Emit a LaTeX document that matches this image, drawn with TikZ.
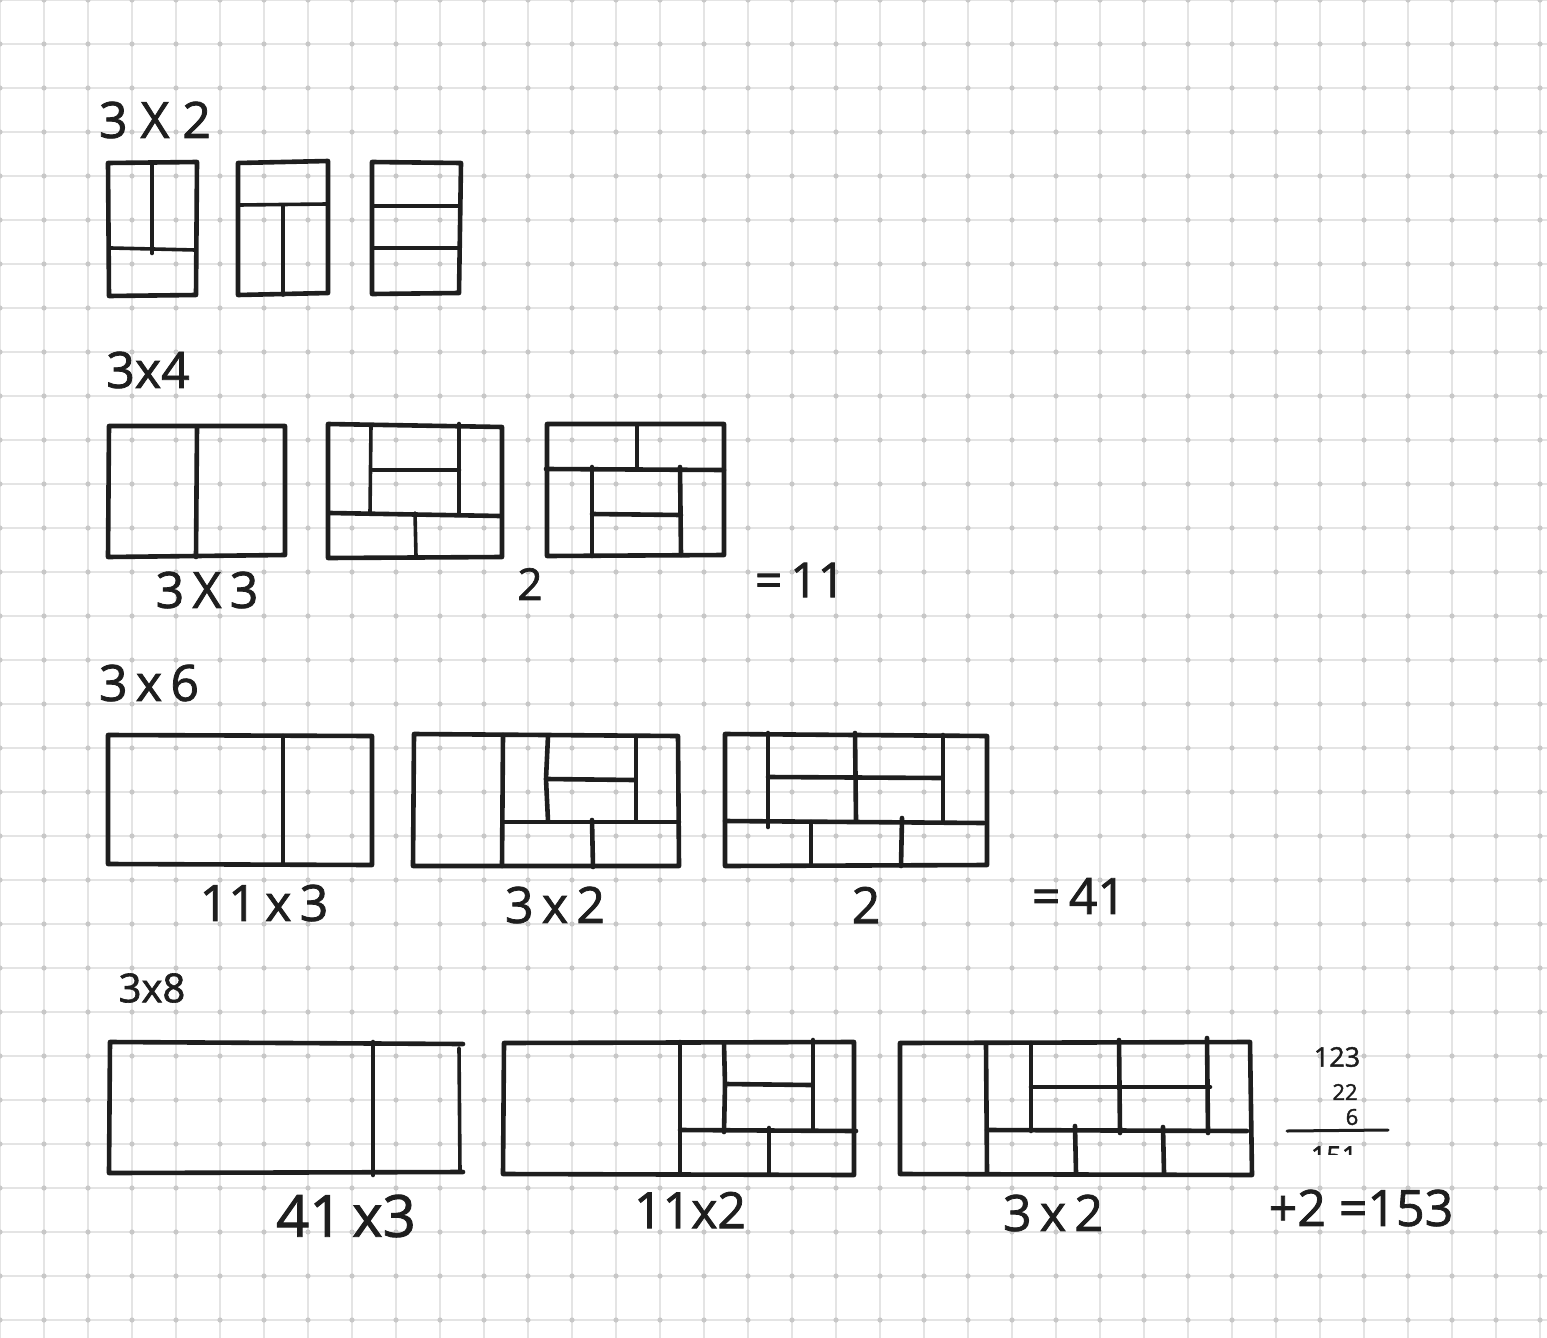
\documentclass[tikz,border=0pt]{standalone}
\usepackage{fontspec}
\setmainfont{Open Sans}[FakeBold=1.6]
\definecolor{ink}{HTML}{1E1E1E}
\definecolor{gridc}{HTML}{E4E4E4}
\definecolor{dotc}{HTML}{C8C8C8}
\begin{document}
\begin{tikzpicture}[x=1pt,y=-1pt,
  pen/.style={draw=ink,line width=4.6pt,line cap=round,line join=round},
  fine/.style={draw=ink,line width=3.6pt,line cap=round,line join=round},
  gridline/.style={draw=gridc,line width=1.8pt},
  hand/.style={text=ink,inner sep=0pt,anchor=center},
  big/.style={hand,font=\fontsize{50}{60}\selectfont},
  mid/.style={hand,font=\fontsize{40}{48}\selectfont},
  small/.style={hand,font=\fontsize{27}{32}\selectfont},
  tiny/.style={hand,font=\fontsize{22}{26}\selectfont}]
\useasboundingbox (0,0) rectangle (1547,1338);
\fill[white] (0,0) rectangle (1547,1338);
% grid
\foreach \i in {0,...,35} \draw[gridline] (\i*44,0) -- (\i*44,1338);
\foreach \j in {0,...,30} \draw[gridline] (0,\j*44) -- (1547,\j*44);
\foreach \i in {0,...,35} \foreach \j in {0,...,30} \fill[dotc] (\i*44,\j*44) circle (2.6pt);

% ---------- 3 x 2 ----------
\node[big] (t1) at (155,120) {3 X 2};
\draw[pen] (108,163) -- (197,162) -- (196,295) -- (109,296) -- cycle;
\draw[pen] (152,165) -- (152,253);
\draw[fine] (111,248) -- (195,250);
\draw[pen] (238,163) -- (328,161) -- (328,293) -- (238,295) -- cycle;
\draw[fine] (239,205) -- (327,204);
\draw[fine] (283,205) -- (283,295);
\draw[pen] (372,162) -- (461,163) -- (459,293) -- (372,294) -- cycle;
\draw[fine] (373,206) -- (458,206);
\draw[fine] (373,248) -- (458,248);

% ---------- 3 x 4 ----------
\node[big] (t2) at (148,370) {3x4};
\draw[pen] (109,426) -- (285,426) -- (285,555) -- (108,557) -- cycle;
\draw[pen] (197,427) -- (196,557);
\node[big] (t3) at (207,590) {3\,X\,3};
\draw[pen] (328,424) -- (502,427) -- (502,557) -- (328,558) -- cycle;
\draw[fine] (371,425) -- (370,513);
\draw[pen] (459,424) -- (459,514);
\draw[pen] (373,470) -- (459,470);
\draw[pen] (330,513) -- (500,516);
\draw[fine] (415,513) -- (416,556);
\draw[pen] (547,424) -- (724,424) -- (724,555) -- (547,556) -- cycle;
\draw[pen] (546,469) -- (724,470);
\draw[fine] (637,425) -- (637,469);
\draw[pen] (592,467) -- (592,556);
\draw[pen] (680,467) -- (681,555);
\draw[pen] (592,514) -- (681,515);
\node[hand,font=\fontsize{44}{52}\selectfont] (t4) at (530,584) {2};
\node[hand,font=\fontsize{48}{58}\selectfont] (t5) at (800,580) {=\,11};

% ---------- 3 x 6 ----------
\node[big] (t6) at (149,683) {3\,x\,6};
\draw[pen] (108,735) -- (372,736) -- (372,865) -- (108,864) -- cycle;
\draw[pen] (283,736) -- (283,864);
\node[big] (t7) at (264,903) {11\,x\,3};
\draw[pen] (414,734) -- (678,736) -- (679,866) -- (413,866) -- cycle;
\draw[pen] (503,735) -- (502,866);
\draw[pen] (548,736) -- (546,779) -- (548,821);
\draw[pen] (547,779) -- (634,780);
\draw[pen] (636,736) -- (636,821);
\draw[pen] (503,822) -- (679,822);
\draw[pen] (592,820) -- (593,867);
\node[big] (t8) at (555,905) {3\,x\,2};
\draw[pen] (725,734) -- (987,736) -- (987,865) -- (725,866) -- cycle;
\draw[pen] (768,733) -- (768,827);
\draw[pen] (855,733) -- (856,820);
\draw[pen] (943,735) -- (943,820);
\draw[pen] (768,777) -- (942,778);
\draw[pen] (725,821) -- (984,823);
\draw[pen] (811,822) -- (811,864);
\draw[pen] (902,818) -- (901,866);
\node[big] (t9) at (866,905) {2};
\node[big] (t10) at (1079,896) {=\,41};

% ---------- 3 x 8 ----------
\node[mid] (t11) at (152,988) {3x8};
\draw[pen] (463,1044) -- (110,1042) -- (109,1173) -- (463,1172);
\draw[pen] (373,1042) -- (373,1175);
\draw[fine] (459,1048) -- (460,1172);
\node[hand,font=\fontsize{58}{68}\selectfont] (t12) at (346,1216) {41\,x3};
\draw[pen] (504,1043) -- (854,1042) -- (854,1175) -- (503,1174) -- cycle;
\draw[pen] (680,1042) -- (680,1174);
\draw[pen] (724,1043) -- (725,1085) -- (724,1132);
\draw[pen] (726,1084) -- (811,1085);
\draw[pen] (813,1040) -- (813,1129);
\draw[pen] (680,1130) -- (856,1131);
\draw[pen] (769,1128) -- (769,1174);
\node[big] (t13) at (690,1210) {11x2};
\draw[pen] (900,1043) -- (1250,1042) -- (1252,1175) -- (900,1174) -- cycle;
\draw[pen] (986,1045) -- (987,1172);
\draw[pen] (1031,1043) -- (1031,1131);
\draw[pen] (1119,1040) -- (1120,1133);
\draw[pen] (1207,1038) -- (1208,1133);
\draw[pen] (1031,1087) -- (1210,1087);
\draw[pen] (987,1130) -- (1247,1131);
\draw[pen] (1075,1126) -- (1076,1173);
\draw[pen] (1163,1127) -- (1164,1173);
\node[big] (t14) at (1053,1213) {3\,x\,2};

% ---------- sum ----------
\node[small] (t15) at (1337,1057) {123};
\node[tiny] (t16) at (1345,1092) {22};
\node[tiny] (t17) at (1352,1117) {6};
\coordinate (sl) at (1287,1131);
\coordinate (sr) at (1388,1130);
\draw[draw=ink,line width=3pt,line cap=round] (sl) -- (sr);
\begin{scope}
\clip (1290,1136) rectangle (1380,1154);
\node[small] (t18) at (1334,1156) {151};
\end{scope}
\node[big] (t19) at (1361,1208) {+2 =153};
\end{tikzpicture}
\end{document}
